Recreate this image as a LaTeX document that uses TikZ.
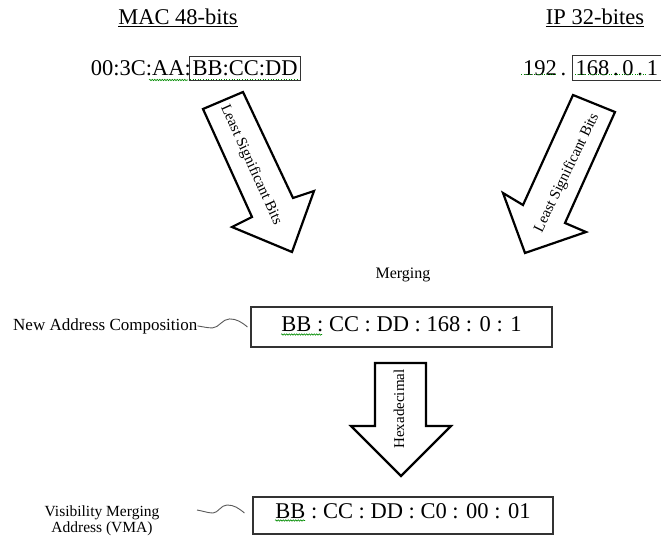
\documentclass[tikz,border=0pt]{standalone}
\usepackage{fontspec}
\setmainfont{Liberation Serif}
\usetikzlibrary{calc,decorations.pathmorphing}
\begin{document}
\begin{tikzpicture}[x=1pt,y=-1pt,
  bigtxt/.style={font=\fontsize{22.5}{27}\selectfont, inner sep=0pt},
  lbltxt/.style={font=\fontsize{17}{20}\selectfont, inner sep=0pt},
  vmatxt/.style={font=\fontsize{15.5}{16}\selectfont, inner sep=0pt, align=center},
  addrbox/.style={draw=black!80, line width=1.1pt, inner sep=0pt, font=\fontsize{22.5}{27}\selectfont},
  fatarrow/.style={draw=black, line width=2.2pt, fill=white, line join=miter},
  arrowlabel/.style={font=\fontsize{15}{18}\selectfont, inner sep=0pt},
  squig/.style={draw=black!65, line width=0.9pt},
  spell/.style={draw=green!55!black, line width=0.6pt, decorate, decoration={snake, amplitude=0.7pt, segment length=2.5pt}},
  spelldot/.style={draw=green!55!black, line width=0.6pt, dotted}
]
\fill[white] (0,0) rectangle (661,537);
\useasboundingbox (0,0) rectangle (661,537);

% headers
\node[bigtxt, anchor=base] (machead) at (178,25) {\underline{MAC 48-bits}};
\node[bigtxt, anchor=base] (iphead) at (595,25) {\underline{IP 32-bites}};

% MAC address
\node[addrbox, anchor=north west, minimum width=111pt, minimum height=24pt] (macB) at (189,56) {BB:CC:DD};
\node[bigtxt, anchor=base east] (macA) at (191,76) {00:3C:AA:};

% IP address
\node[bigtxt, anchor=base west] (ipA) at (523,76) {192\,.};
\node[addrbox, anchor=north west, inner xsep=3pt, text width=94pt, align=left, minimum height=25pt] (ipB) at (572,55) {168\,.\,0\,.\,1};

% spell-check marks
\draw[spell] (149,80) -- (188,80);
\draw[spelldot] (190,79.5) -- (299,79.5);
\draw[spelldot] (521,74.5) -- (556,74.5);
\draw[spelldot] (575,74.5) -- (646,74.5);

% big arrows
\draw[fatarrow] (203,109) -- (243,92) -- (293,198) -- (314,191) -- (292,252) -- (232,227) -- (252,217) -- cycle;
\node[arrowlabel, rotate=-65.6] (lsb1) at (251,165) {Least Significant Bits};

\draw[fatarrow] (573,95) -- (615,112) -- (565,223) -- (586,232) -- (525,253) -- (503,193) -- (523,205) -- cycle;
\node[arrowlabel, rotate=64] (lsb2) at (567,173) {Least Significant Bits};

\node[font=\fontsize{16}{19}\selectfont, inner sep=0pt] (merge) at (403,275) {Merging};

% new address
\node[addrbox, minimum width=301pt, minimum height=40pt, text depth=6.6pt] (box1) at (401.5,327) {BB : CC : DD : 168 : 0 : 1};
\node[lbltxt, anchor=base west] (nac) at (13,330) {New Address Composition};
\draw[squig] (nac.east) .. controls +(6,1) and +(-5,0) .. ++(15,2) .. controls +(6,0) and +(-7,0) .. ++(17,-9) .. controls +(7,0) and +(-6,-5) .. ($(box1.west)+(-3,0)$);
\draw[spell] (281,334.5) -- (322,334.5);

% hexadecimal arrow
\draw[fatarrow] (375,363) -- (426,363) -- (426,426) -- (451,426) -- (401,476) -- (351,426) -- (375,426) -- cycle;
\node[font=\fontsize{15}{18}\selectfont, inner sep=0pt, rotate=90] (hex) at (399,409) {Hexadecimal};

% VMA
\node[addrbox, minimum width=300pt, minimum height=37pt, text depth=8pt] (box2) at (403,515.5) {BB : CC : DD : C0 : 00 : 01};
\node[vmatxt] (vma) at (102,521) {Visibility Merging\\Address (VMA)};
\coordinate (s2a) at (197,510);
\draw[squig] (s2a) .. controls +(6,1) and +(-5,0) .. ++(16,3) .. controls +(5,0) and +(-6,0) .. ++(14,-8) .. controls +(7,0) and +(-6,-5) .. ($(box2.west)+(-8,-2.5)$);
\draw[spell] (275,520.5) -- (305,520.5);
\end{tikzpicture}
\end{document}
